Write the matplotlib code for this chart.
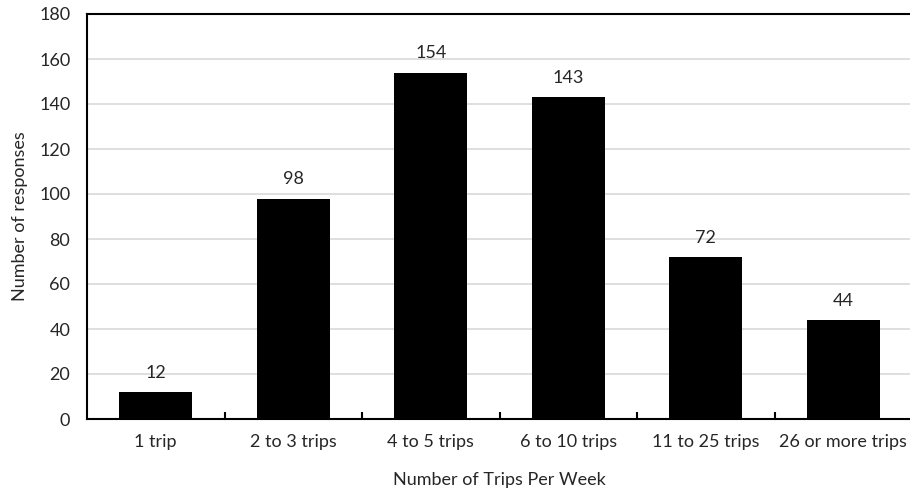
import matplotlib.pyplot as plt
import numpy as np

categories = ['1 trip', '2 to 3 trips', '4 to 5 trips', '6 to 10 trips',
              '11 to 25 trips', '26 or more trips']
responses = [12, 98, 154, 143, 72, 44]

plt.rcParams['font.family'] = ['Lato', 'DejaVu Sans']
fs = 13

fig = plt.figure(figsize=(9.1, 4.93), dpi=100)
ax = fig.add_axes([87 / 910, 1 - 419 / 493, 825 / 910, 405 / 493])

x = np.arange(len(categories))
bars = ax.bar(x, responses, width=0.53, color='black', zorder=3)
for b, v in zip(bars, responses):
    ax.text(b.get_x() + b.get_width() / 2, v + 5, str(v), ha='center',
            va='bottom', fontsize=fs, color='#262626')

ax.set_xlim(-0.5, len(categories) - 0.5)
ax.set_ylim(0, 180)
ax.set_yticks(np.arange(0, 181, 20))
ax.yaxis.grid(True, color='#d9d9d9', linewidth=1.2, zorder=0)
ax.tick_params(axis='y', length=0, labelsize=fs, pad=12, labelcolor='#262626')

ax.set_xticks(x)
ax.set_xticklabels(categories)
ax.set_xticks(np.arange(0.5, len(categories) - 0.5), minor=True)
ax.tick_params(axis='x', which='major', length=0, labelsize=fs, pad=11,
               labelcolor='#262626')
ax.tick_params(axis='x', which='minor', direction='in', length=5, width=1.5)

for s in ['left', 'bottom', 'top']:
    ax.spines[s].set_linewidth(1.5)
ax.spines['right'].set_visible(False)

ax.set_xlabel('Number of Trips Per Week', fontsize=fs, labelpad=16, color='#262626')
ax.set_ylabel('Number of responses', fontsize=fs, labelpad=8, color='#262626')

fig.savefig('out.png', dpi=100)
